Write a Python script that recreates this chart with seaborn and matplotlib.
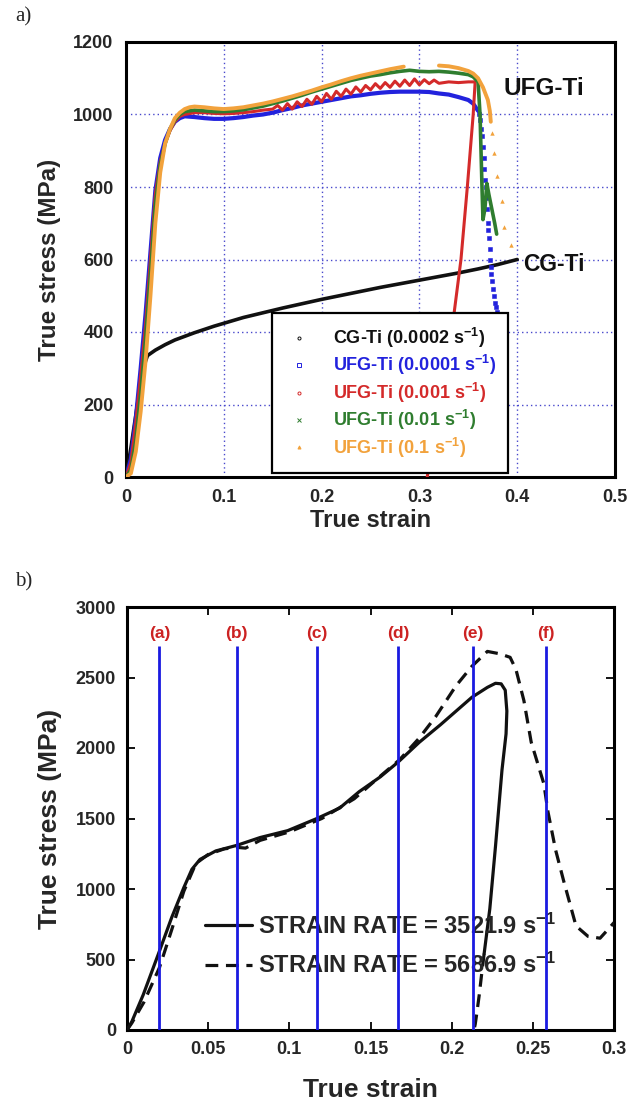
import numpy as np
import pandas as pd
import matplotlib
matplotlib.use("Agg")
import matplotlib.pyplot as plt
import seaborn as sns
from matplotlib.lines import Line2D

# ---------------- Panel a) data ----------------
CG_X = [0, 0.005, 0.01, 0.015, 0.02, 0.022, 0.03, 0.04, 0.05, 0.06, 0.07, 0.08, 0.09, 0.1,
        0.12, 0.14, 0.16, 0.18, 0.2, 0.22, 0.24, 0.26, 0.28, 0.3, 0.32, 0.34, 0.36, 0.38, 0.4]
CG_Y = [0, 80, 170, 260, 320, 335, 350, 365, 378, 388, 398, 407, 416, 424,
        440, 453, 466, 478, 490, 501, 512, 523, 533, 543, 553, 563, 574, 586, 600]

BLUE_X = [0, 0.005, 0.01, 0.015, 0.02, 0.025, 0.03, 0.035, 0.04, 0.045, 0.05, 0.055, 0.06, 0.07,
          0.08, 0.09, 0.1, 0.11, 0.12, 0.13, 0.14, 0.15, 0.16, 0.17, 0.18, 0.19, 0.2, 0.21, 0.22,
          0.23, 0.24, 0.25, 0.26, 0.27, 0.28, 0.29, 0.3, 0.31, 0.32, 0.33, 0.34, 0.35, 0.355, 0.36]
BLUE_Y = [0, 50, 160, 300, 450, 620, 790, 880, 930, 960, 980, 990, 995, 993,
          990, 988, 988, 990, 993, 997, 1000, 1005, 1012, 1018, 1025, 1030, 1035, 1040, 1045,
          1050, 1053, 1057, 1060, 1062, 1063, 1063, 1063, 1062, 1058, 1055, 1048, 1040, 1030, 1010]
BLUE_TAIL_X = [0.361, 0.362, 0.363, 0.364, 0.365, 0.366, 0.366, 0.367, 0.368, 0.368, 0.369, 0.37,
               0.37, 0.371, 0.372, 0.372, 0.373, 0.373, 0.374, 0.375, 0.376, 0.377, 0.378, 0.379,
               0.38, 0.381, 0.382]
BLUE_TAIL_Y = [1000, 985, 960, 940, 910, 880, 850, 820, 800, 770, 740, 700,
               680, 660, 630, 600, 580, 560, 540, 520, 500, 480, 470, 455,
               445, 440, 430]

RED_X = [0, 0.005, 0.01, 0.015, 0.02, 0.025, 0.03, 0.035, 0.04, 0.045, 0.05, 0.055, 0.06, 0.07,
         0.08, 0.09, 0.1, 0.11, 0.12, 0.13, 0.14, 0.15, 0.155, 0.16, 0.165, 0.17, 0.175, 0.18,
         0.185, 0.19, 0.195, 0.2, 0.205, 0.21, 0.215, 0.22, 0.225, 0.23, 0.235, 0.24, 0.245,
         0.25, 0.255, 0.26, 0.265, 0.27, 0.275, 0.28, 0.285, 0.29, 0.295, 0.3, 0.305, 0.31,
         0.315, 0.32, 0.33, 0.34, 0.35, 0.357, 0.355, 0.349, 0.3425, 0.333, 0.32, 0.308]
RED_Y = [0, 40, 150, 280, 420, 600, 780, 870, 920, 955, 980, 995, 1000, 1005,
         1005, 1003, 1002, 1003, 1005, 1008, 1012, 1015, 1025, 1012, 1030, 1015, 1035, 1022,
         1042, 1028, 1050, 1035, 1058, 1042, 1064, 1050, 1070, 1056, 1076, 1062, 1080,
         1068, 1085, 1072, 1088, 1075, 1092, 1078, 1095, 1080, 1098, 1082, 1096, 1085,
         1095, 1086, 1090, 1088, 1090, 1090, 1000, 800, 600, 400, 200, 0]

GREEN_X = [0, 0.005, 0.01, 0.015, 0.02, 0.025, 0.03, 0.035, 0.04, 0.045, 0.05, 0.055, 0.06, 0.07,
           0.08, 0.09, 0.1, 0.11, 0.12, 0.13, 0.14, 0.15, 0.16, 0.17, 0.18, 0.19, 0.2, 0.21,
           0.22, 0.23, 0.24, 0.25, 0.26, 0.27, 0.28, 0.29, 0.3, 0.31, 0.32, 0.33, 0.34, 0.35,
           0.355, 0.36, 0.362, 0.363, 0.364, 0.365, 0.367, 0.369, 0.371, 0.374, 0.377, 0.379]
GREEN_Y = [0, 20, 100, 230, 380, 560, 750, 860, 920, 960, 985, 1000, 1008, 1012,
           1010, 1008, 1008, 1010, 1013, 1018, 1023, 1030, 1037, 1045, 1053, 1062, 1070, 1078,
           1086, 1094, 1100, 1106, 1110, 1115, 1119, 1122, 1119, 1118, 1119, 1117, 1114, 1110,
           1104, 1090, 1000, 900, 800, 710, 740, 810, 780, 740, 700, 670]

ORANGE_X1 = [0, 0.005, 0.01, 0.015, 0.02, 0.025, 0.03, 0.035, 0.04, 0.045, 0.05, 0.055, 0.06,
             0.065, 0.07, 0.08, 0.09, 0.1, 0.11, 0.12, 0.13, 0.14, 0.15, 0.16, 0.17, 0.18,
             0.19, 0.2, 0.21, 0.22, 0.23, 0.24, 0.25, 0.26, 0.27, 0.28, 0.284]
ORANGE_Y1 = [0, 10, 70, 180, 320, 500, 700, 840, 920, 960, 990, 1005, 1015,
             1020, 1022, 1020, 1017, 1015, 1017, 1020, 1025, 1030, 1036, 1043, 1050, 1058,
             1066, 1075, 1083, 1092, 1100, 1107, 1113, 1119, 1125, 1130, 1132]
ORANGE_X2 = [0.32, 0.33, 0.34, 0.35, 0.355, 0.36, 0.365, 0.37, 0.372, 0.373]
ORANGE_Y2 = [1135, 1133, 1128, 1120, 1113, 1100, 1075, 1040, 1010, 980]
ORANGE_TAIL_X = [0.374, 0.376, 0.3795, 0.384, 0.387, 0.394]
ORANGE_TAIL_Y = [950, 895, 830, 760, 690, 640]

LEGEND_A = ["CG-Ti (0.0002 s$^{-1}$)", "UFG-Ti (0.0001 s$^{-1}$)", "UFG-Ti (0.001 s$^{-1}$)",
            "UFG-Ti (0.01 s$^{-1}$)", "UFG-Ti (0.1 s$^{-1}$)"]
XTICKS_A = [0, 0.1, 0.2, 0.3, 0.4, 0.5]
XTICKLABELS_A = ["0", "0.1", "0.2", "0.3", "0.4", "0.5"]
YTICKS_A = [0, 200, 400, 600, 800, 1000, 1200]

# ---------------- Panel b) data ----------------
SOLID_X = [0, 0.003, 0.01, 0.02, 0.0276, 0.035, 0.04, 0.045, 0.0547, 0.0678, 0.082, 0.099,
           0.117, 0.131, 0.143, 0.156, 0.167, 0.18, 0.193, 0.2125, 0.222, 0.227, 0.2305,
           0.233, 0.234, 0.2335, 0.231, 0.227, 0.2235, 0.22]
SOLID_Y = [0, 60, 250, 560, 800, 1010, 1140, 1210, 1270, 1310, 1365, 1414,
           1500, 1574, 1690, 1795, 1900, 2040, 2164, 2360, 2430, 2459, 2455,
           2410, 2262, 2100, 1844, 1303, 860, 541]
UNLOAD_X = [0.22, 0.2185, 0.217, 0.2155, 0.2145, 0.2137]
UNLOAD_Y = [541, 400, 250, 120, 40, 0]
DASH_X = [0, 0.003, 0.0104, 0.02, 0.0276, 0.035, 0.0424, 0.05, 0.06, 0.068, 0.073, 0.082, 0.1,
          0.12, 0.14, 0.155, 0.168, 0.18, 0.19, 0.2026, 0.2125, 0.222, 0.2297, 0.236, 0.2396,
          0.2445, 0.249, 0.2568, 0.2593, 0.264, 0.269, 0.2766, 0.284, 0.2914, 0.2963, 0.3]
DASH_Y = [0, 50, 197, 443, 713, 984, 1180, 1245, 1285, 1295, 1290, 1345, 1405,
          1500, 1640, 1790, 1918, 2070, 2220, 2440, 2580, 2685, 2668, 2643, 2557,
          2336, 2041, 1746, 1549, 1278, 1057, 738, 664, 651, 713, 762]
MARK_X = [0.02, 0.0675, 0.117, 0.167, 0.213, 0.2583]
MARK_LABELS = ["(a)", "(b)", "(c)", "(d)", "(e)", "(f)"]
MARK_TOP = 2720
MARK_LABEL_Y = 2810
LEGEND_B = ["STRAIN RATE = 3521.9 s$^{-1}$", "STRAIN RATE = 5686.9 s$^{-1}$"]
XTICKS_B = [0, 0.05, 0.1, 0.15, 0.2, 0.25, 0.3]
XTICKLABELS_B = ["0", "0.05", "0.1", "0.15", "0.2", "0.25", "0.3"]
YTICKS_B = [0, 500, 1000, 1500, 2000, 2500, 3000]

# ---------------- styling ----------------
sns.set_theme(style="white")
plt.rcParams['font.family'] = ['Liberation Sans', 'DejaVu Sans']
plt.rcParams['font.weight'] = 'bold'
plt.rcParams['axes.labelweight'] = 'bold'
plt.rcParams['mathtext.fontset'] = 'custom'
plt.rcParams['mathtext.rm'] = 'Liberation Sans:bold'
plt.rcParams['mathtext.bf'] = 'Liberation Sans:bold'
plt.rcParams['mathtext.default'] = 'bf'

C_BLACK = "#111111"
C_BLUE = "#2222dd"
C_RED = "#d42a2a"
C_GREEN = "#2f7d2f"
C_ORANGE = "#f2a23c"
C_VLINE = "#1a1ae0"
C_MARK = "#cc2222"

fig = plt.figure(figsize=(6.28, 11.08), dpi=100)
ax1 = fig.add_axes([126 / 628, (1108 - 477) / 1108, (615 - 126) / 628, 435 / 1108])
ax2 = fig.add_axes([127 / 628, (1108 - 1030) / 1108, (614 - 127) / 628, 423 / 1108])

# ---------------- Panel a ----------------
lw = 2.6
sns.lineplot(x=CG_X, y=CG_Y, ax=ax1, color=C_BLACK, lw=lw, sort=False, estimator=None, zorder=3)
sns.lineplot(x=BLUE_X, y=BLUE_Y, ax=ax1, color=C_BLUE, lw=3.0, sort=False, estimator=None, zorder=3)
sns.scatterplot(x=BLUE_TAIL_X, y=BLUE_TAIL_Y, ax=ax1, color=C_BLUE, marker='s', s=10,
                linewidth=0.4, edgecolor=C_BLUE, zorder=3)
sns.lineplot(x=RED_X, y=RED_Y, ax=ax1, color=C_RED, lw=2.2, sort=False, estimator=None, zorder=4)
sns.lineplot(x=GREEN_X, y=GREEN_Y, ax=ax1, color=C_GREEN, lw=lw, sort=False, estimator=None, zorder=5)
sns.lineplot(x=ORANGE_X1, y=ORANGE_Y1, ax=ax1, color=C_ORANGE, lw=2.8, sort=False, estimator=None, zorder=6)
sns.lineplot(x=ORANGE_X2, y=ORANGE_Y2, ax=ax1, color=C_ORANGE, lw=2.8, sort=False, estimator=None, zorder=6)
sns.scatterplot(x=ORANGE_TAIL_X, y=ORANGE_TAIL_Y, ax=ax1, color=C_ORANGE, marker='^', s=10,
                linewidth=0, zorder=6)

ax1.set_xlim(0, 0.5)
ax1.set_ylim(0, 1200)
ax1.set_xticks(XTICKS_A)
ax1.set_xticklabels(XTICKLABELS_A)
ax1.set_yticks(YTICKS_A)
ax1.grid(True, color="#4848cc", linestyle=(0, (1, 2.2)), lw=1.0)
ax1.tick_params(length=0, labelsize=13, pad=9)
for s in ax1.spines.values():
    s.set_linewidth(2.2)
    s.set_color("black")
ax1.set_xlabel("True strain", fontsize=17, labelpad=2)
ax1.set_ylabel("True stress (MPa)", fontsize=17.5, labelpad=9)

ax1.text(0.386, 1073, "UFG-Ti", fontsize=17.5, va='center', ha='left', color=C_BLACK)
ax1.text(0.406, 585, "CG-Ti", fontsize=16.5, va='center', ha='left', color=C_BLACK)

leg_colors = [C_BLACK, C_BLUE, C_RED, C_GREEN, C_ORANGE]
leg_markers = ['o', 's', 'o', 'x', '^']
handles = [Line2D([], [], linestyle='none', marker=m, markersize=2.2, color=c,
                  markerfacecolor='none' if m in ('o', 's') else c, markeredgewidth=0.7)
           for m, c in zip(leg_markers, leg_colors)]
leg = ax1.legend(handles, LEGEND_A, loc='lower left',
                 bbox_to_anchor=(0.2986, 0.009, 0.4826, 0.352), mode='expand',
                 fontsize=13, frameon=True, fancybox=False, framealpha=1,
                 edgecolor='black', borderpad=0.75, labelspacing=0.18,
                 handlelength=1.5, handletextpad=1.1, borderaxespad=0)
leg.get_frame().set_linewidth(1.6)
leg.set_zorder(10)
for t, c in zip(leg.get_texts(), leg_colors):
    t.set_color(c)

# ---------------- Panel b ----------------
dash = (0, (4, 2.4))
sns.lineplot(x=SOLID_X, y=SOLID_Y, ax=ax2, color=C_BLACK, lw=2.3, sort=False,
             estimator=None, label=LEGEND_B[0], zorder=3)
sns.lineplot(x=DASH_X, y=DASH_Y, ax=ax2, color=C_BLACK, lw=2.3, sort=False,
             estimator=None, linestyle=dash, label=LEGEND_B[1], zorder=3)
sns.lineplot(x=UNLOAD_X, y=UNLOAD_Y, ax=ax2, color=C_BLACK, lw=2.3, sort=False,
             estimator=None, linestyle=dash, zorder=3)

ax2.vlines(MARK_X, 0, MARK_TOP, color=C_VLINE, lw=2.0, zorder=5)
for x, lab in zip(MARK_X, MARK_LABELS):
    ax2.text(x, MARK_LABEL_Y, lab, color=C_MARK, fontsize=12.5, ha='center', va='center', zorder=6)

ax2.set_xlim(0, 0.3)
ax2.set_ylim(0, 3000)
ax2.set_xticks(XTICKS_B)
ax2.set_xticklabels(XTICKLABELS_B)
ax2.set_yticks(YTICKS_B)
ax2.tick_params(direction='in', length=6, width=1.3, top=True, right=True,
                bottom=True, left=True, labelsize=13, pad=8, color='black')
for s in ax2.spines.values():
    s.set_linewidth(2.2)
    s.set_color("black")
ax2.set_xlabel("True strain", fontsize=19, labelpad=14)
ax2.set_ylabel("True stress (MPa)", fontsize=19, labelpad=10)

leg2 = ax2.legend(loc='upper left', bbox_to_anchor=(0.16, 0.276), frameon=False,
                  fontsize=17, handlelength=2.0, handletextpad=0.25,
                  labelspacing=0.6, borderpad=0, borderaxespad=0)
leg2.set_zorder(4)

fig.text(15 / 628, 1 - 17 / 1108, "a)", family=['Liberation Serif', 'DejaVu Serif'],
         fontweight='normal', fontsize=15, va='center', ha='left')
fig.text(15 / 628, 1 - 582 / 1108, "b)", family=['Liberation Serif', 'DejaVu Serif'],
         fontweight='normal', fontsize=15, va='center', ha='left')

fig.savefig("out.png", dpi=100, facecolor='white')
